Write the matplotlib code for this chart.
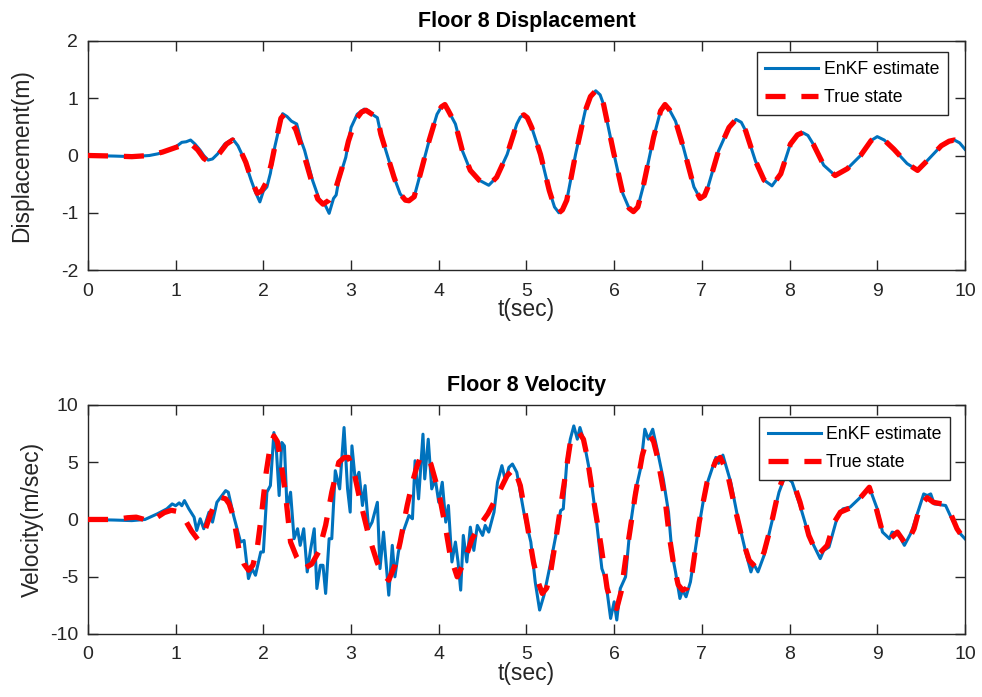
import numpy as np
import matplotlib
matplotlib.use("Agg")
import matplotlib.pyplot as plt

plt.rcParams['font.family'] = ['Liberation Sans', 'DejaVu Sans']
plt.rcParams['axes.unicode_minus'] = False

# ---- floor 8 displacement (m) ----
disp_est_t = [0.0, 0.3, 0.5, 0.7, 0.8, 0.92, 1.0, 1.07, 1.12, 1.17, 1.22, 1.28, 1.32, 1.37, 1.42,
              1.48, 1.56, 1.65, 1.71, 1.78, 1.86, 1.91, 1.96, 2.0, 2.04, 2.08, 2.13, 2.19, 2.22,
              2.27, 2.32, 2.38, 2.43, 2.47, 2.56, 2.64, 2.7, 2.75, 2.8, 2.83, 2.86, 2.94, 3.0,
              3.07, 3.15, 3.2, 3.24]
disp_est_v = [0.0, -0.01, -0.02, 0.0, 0.03, 0.09, 0.15, 0.23, 0.24, 0.27, 0.2, 0.09, 0.0, -0.08, -0.06,
              0.03, 0.2, 0.29, 0.17, -0.06, -0.43, -0.64, -0.81, -0.62, -0.55, -0.31, 0.15, 0.55, 0.73,
              0.68, 0.6, 0.55, 0.26, 0.09, -0.43, -0.78, -0.85, -1.01, -0.75, -0.69, -0.43, -0.03, 0.49,
              0.72, 0.81, 0.78, 0.72]

disp_true_t = [0.0, 0.3, 0.5, 0.7, 0.85, 1.0, 1.1, 1.17, 1.25, 1.32, 1.37, 1.43, 1.5, 1.58, 1.65,
               1.72, 1.8, 1.87, 1.93, 1.98, 2.04, 2.09, 2.15, 2.2, 2.24, 2.3, 2.37, 2.45, 2.55,
               2.62, 2.68, 2.75, 2.82, 2.9, 2.97, 3.05, 3.12, 3.17, 3.24]
disp_true_v = [0.0, -0.01, -0.02, 0.0, 0.06, 0.14, 0.19, 0.21, 0.1, -0.05, -0.1, -0.07, 0.04, 0.2, 0.27,
               0.15, -0.12, -0.45, -0.66, -0.62, -0.45, -0.15, 0.3, 0.65, 0.72, 0.63, 0.45, 0.08, -0.45,
               -0.76, -0.85, -0.78, -0.6, -0.2, 0.25, 0.62, 0.76, 0.79, 0.72]

# after ~3.3 s the estimate lies on the true state
disp_tail_t = [3.3, 3.34, 3.41, 3.49, 3.56, 3.62, 3.66, 3.72, 3.79, 3.89, 3.98, 4.03, 4.07, 4.11, 4.19,
               4.27, 4.36, 4.46, 4.57, 4.66, 4.78, 4.89, 4.93, 4.97, 5.01, 5.06, 5.16, 5.26, 5.32,
               5.37, 5.41, 5.46, 5.56, 5.67, 5.73, 5.79, 5.84, 5.88, 5.99, 6.1, 6.17, 6.22, 6.27,
               6.33, 6.45, 6.53, 6.58, 6.63, 6.7, 6.79, 6.91, 6.98, 7.03, 7.07, 7.19, 7.31, 7.39,
               7.45, 7.5, 7.61, 7.71, 7.8, 7.9, 8.01, 8.09, 8.15, 8.21, 8.27, 8.39, 8.52, 8.66,
               8.81, 8.93, 9.0, 9.08, 9.19, 9.34, 9.46, 9.57, 9.73, 9.82, 9.88, 9.94, 10.0]
disp_tail_v = [0.66, 0.37, 0.02, -0.38, -0.67, -0.78, -0.79, -0.72, -0.32, 0.26, 0.72, 0.85, 0.89, 0.78, 0.55,
               0.08, -0.26, -0.43, -0.52, -0.38, 0.02, 0.55, 0.67, 0.71, 0.66, 0.49, 0.02, -0.61, -0.9,
               -1.0, -0.95, -0.78, 0.02, 0.78, 1.03, 1.13, 1.06, 0.89, 0.08, -0.67, -0.92, -0.98, -0.9,
               -0.55, 0.32, 0.78, 0.89, 0.8, 0.6, 0.14, -0.55, -0.75, -0.7, -0.55, 0.08, 0.49, 0.63,
               0.58, 0.43, -0.09, -0.43, -0.53, -0.32, 0.2, 0.36, 0.4, 0.35, 0.2, -0.17, -0.35, -0.23,
               0.0, 0.26, 0.33, 0.27, 0.11, -0.14, -0.26, -0.09, 0.17, 0.25, 0.27, 0.22, 0.11]

# ---- floor 8 velocity (m/sec) ----
vel_est_t = [0.0, 0.3, 0.5, 0.65, 0.79, 0.9, 0.96, 1.0, 1.04, 1.07, 1.1, 1.15, 1.21, 1.24, 1.28,
             1.32, 1.38, 1.42, 1.47, 1.57, 1.6, 1.66, 1.74, 1.78, 1.83, 1.87, 1.91, 1.97, 2.0,
             2.04, 2.08, 2.12, 2.15, 2.18, 2.21, 2.24, 2.27, 2.31, 2.35, 2.39, 2.42, 2.46, 2.5,
             2.54, 2.58, 2.61, 2.65, 2.68, 2.71, 2.75, 2.78, 2.82, 2.87, 2.92, 2.96, 2.99, 3.01,
             3.05, 3.09, 3.13, 3.16, 3.2, 3.24, 3.3, 3.33, 3.37, 3.43, 3.47, 3.5, 3.54, 3.58,
             3.62, 3.66, 3.7, 3.73, 3.77, 3.82, 3.84, 3.88, 3.92, 3.96, 4.0, 4.04, 4.08, 4.11,
             4.15, 4.19, 4.22, 4.25, 4.28, 4.32, 4.36, 4.4, 4.44, 4.5, 4.53, 4.57, 4.63, 4.67,
             4.72, 4.76, 4.8, 4.84, 4.89, 4.97, 5.05, 5.1, 5.15, 5.2, 5.27, 5.35, 5.39, 5.42,
             5.46, 5.5, 5.54, 5.58, 5.61, 5.65, 5.73, 5.8, 5.86, 5.9, 5.96, 6.0, 6.03, 6.07,
             6.13, 6.18, 6.24, 6.3, 6.35, 6.39, 6.44, 6.49, 6.56, 6.62, 6.66, 6.7, 6.75, 6.78,
             6.82, 6.87, 6.95, 7.04, 7.16, 7.19, 7.24, 7.33, 7.42, 7.5, 7.56, 7.59, 7.64, 7.71,
             7.78, 7.88, 7.95, 8.03, 8.12, 8.22, 8.35, 8.39, 8.45, 8.55, 8.61, 8.69, 8.79, 8.91,
             9.0, 9.06, 9.14, 9.17, 9.24, 9.31, 9.39, 9.53, 9.57, 9.61, 9.65, 9.78, 9.85, 9.93,
             10.0]
vel_est_v = [0.0, -0.05, -0.1, 0.0, 0.49, 0.93, 1.36, 1.2, 1.45, 1.2, 1.65, 0.93, 0.2, -0.96, 0.06,
             -0.81, 0.64, -0.23, 1.5, 2.52, 2.38, 0.35, -1.97, -1.83, -5.16, -4.29, -4.87, -2.84, -2.84,
             2.38, 2.96, 7.59, 5.86, 2.09, 6.72, 6.43, 0.93, 2.38, -1.68, -0.81, -2.26, -0.81, -4.58,
             -2.55, -0.81, -6.03, -4.0, -4.0, -6.46, -1.68, -1.68, 4.26, 2.67, 8.03, 2.67, 0.64, 6.43,
             3.25, 4.12, 1.22, 2.96, -0.81, -0.23, 1.5, -4.29, -1.1, -6.61, -2.26, -5.01, -2.84, -1.39,
             -0.52, 0.35, 0.06, 5.13, 1.8, 7.45, 3.54, 7.01, 2.67, 3.54, 1.5, 3.25, -0.23, 1.22,
             -3.71, -1.97, -3.71, -6.17, -1.39, -3.71, -0.67, -2.7, -0.52, -1.39, -0.52, -1.1, 0.64, 3.25,
             4.7, 3.39, 4.55, 4.84, 4.12, 0.64, -1.97, -5.45, -7.91, -6.61, -4.0, -0.81, 0.78, 0.93,
             4.99, 7.01, 8.17, 7.01, 8.03, 7.01, 3.83, -0.23, -4.29, -5.16, -8.64, -7.19, -8.78, -6.03,
             -5.01, -0.81, 2.38, 4.41, 7.88, 7.01, 7.88, 6.14, 3.54, 0.64, -3.0, -4.58, -6.9, -6.17,
             -6.75, -5.45, -1.39, 2.67, 5.42, 4.9, 5.62, 3.25, -0.23, -2.84, -4.58, -3.86, -4.58, -3.13,
             -0.81, 2.38, 3.83, 3.25, 1.22, -1.39, -3.42, -2.7, -2.41, 0.35, 0.93, 1.07, 1.8, 2.81,
             0.93, -1.1, -1.68, -1.1, -1.25, -2.26, -1.1, 2.23, 2.09, 2.23, 1.36, 1.22, 0.06, -1.1,
             -1.68]

vel_true_t = [0.0, 0.3, 0.45, 0.55, 0.62, 0.7, 0.78, 0.87, 0.95, 1.02, 1.09, 1.18, 1.26, 1.34, 1.4,
              1.45, 1.51, 1.57, 1.61, 1.66, 1.72, 1.78, 1.83, 1.88, 1.93, 1.98, 2.03, 2.08, 2.12,
              2.16, 2.2, 2.25, 2.31, 2.38, 2.46, 2.55, 2.63, 2.71, 2.78, 2.86, 2.92, 2.97, 3.03,
              3.09, 3.2, 3.3, 3.37, 3.43, 3.5, 3.56, 3.64, 3.7, 3.75, 3.79, 3.85, 3.91, 4.0,
              4.08, 4.13, 4.21, 4.29, 4.38, 4.48, 4.56, 4.65, 4.72, 4.78, 4.86, 4.93, 5.01, 5.08,
              5.13, 5.18, 5.23, 5.27, 5.33, 5.41, 5.5, 5.55, 5.6, 5.65, 5.69, 5.77, 5.85, 5.92,
              5.98, 6.03, 6.08, 6.13, 6.18, 6.24, 6.32, 6.37, 6.41, 6.45, 6.49, 6.58, 6.63, 6.68,
              6.73, 6.78, 6.83, 6.89, 6.97, 7.06, 7.16, 7.21, 7.29, 7.38, 7.46, 7.54, 7.61, 7.66,
              7.71, 7.78, 7.88, 7.95, 8.03, 8.12, 8.22, 8.32, 8.43, 8.51, 8.58, 8.71, 8.83, 8.91,
              8.98, 9.06, 9.15, 9.23, 9.33, 9.42, 9.49, 9.57, 9.64, 9.74, 9.83, 9.91, 10.0]
vel_true_v = [0.0, 0.0, 0.15, 0.2, 0.05, -0.17, 0.15, 0.6, 0.8, 0.7, 0.2, -1.0, -1.83, -0.81, 0.5,
              1.5, 1.94, 1.8, 1.36, 0.2, -2.55, -3.9, -4.43, -4.0, -2.5, 0.5, 4.0, 6.5, 7.3,
              6.8, 5.0, 2.4, -1.97, -3.3, -4.3, -3.9, -2.84, -0.5, 2.38, 4.99, 5.4, 5.42, 4.3,
              2.09, -1.39, -3.8, -4.87, -5.3, -4.0, -1.97, 1.22, 3.25, 4.6, 5.42, 5.5, 4.84, 2.38,
              -0.81, -3.13, -5.01, -3.71, -1.68, -0.38, 0.5, 1.8, 2.9, 3.83, 4.46, 2.96, -0.52, -3.71,
              -5.4, -6.46, -6.0, -4.87, -1.97, 2.09, 6.72, 7.4, 7.59, 7.0, 5.57, 1.5, -2.26, -6.03,
              -7.5, -7.77, -6.3, -3.5, -1.0, 2.09, 5.57, 6.9, 7.3, 6.8, 5.57, 1.8, -1.5, -4.0,
              -5.7, -6.17, -6.0, -4.58, -0.23, 3.25, 5.13, 5.42, 4.12, 0.93, -1.68, -3.57, -4.14, -3.8,
              -2.84, -0.81, 2.67, 4.12, 3.54, 1.5, -1.39, -3.13, -2.26, -0.23, 0.64, 1.07, 2.09, 2.81,
              1.22, -1.1, -1.68, -1.1, -2.2, -0.81, 1.22, 1.9, 1.5, 1.36, 0.64, -0.81, -1.83]

blue = '#0072BD'
red = '#FF0000'
frame = '#262626'

fig = plt.figure(figsize=(9.82, 6.97), dpi=100)
ax1 = fig.add_axes([0.0896, 0.6126, 0.893, 0.3286])
ax2 = fig.add_axes([0.0896, 0.0904, 0.893, 0.3286])

panels = [
    (ax1, disp_est_t + disp_tail_t, disp_est_v + disp_tail_v,
     disp_true_t + disp_tail_t, disp_true_v + disp_tail_v,
     'Floor 8 Displacement', 'Displacement(m)', (-2, 2), [-2, -1, 0, 1, 2], -0.063, (0.9806, 0.952)),
    (ax2, vel_est_t, vel_est_v, vel_true_t, vel_true_v,
     'Floor 8 Velocity', 'Velocity(m/sec)', (-10, 10), [-10, -5, 0, 5, 10], -0.050, (0.983, 0.9476)),
]

for ax, et, ev, tt, tv, title, ylab, ylim, yticks, ylx, anchor in panels:
    ax.plot(et, ev, color=blue, lw=2.2, label='EnKF estimate', zorder=2)
    ax.plot(tt, tv, color=red, lw=3.8, linestyle=(0, (3.8, 3.0)), label='True state', zorder=3)
    ax.set_xlim(0, 10)
    ax.set_ylim(*ylim)
    ax.set_xticks(range(0, 11))
    ax.set_yticks(yticks)
    ax.tick_params(direction='in', top=True, right=True, length=7, width=1, colors=frame,
                   labelsize=14)
    ax.tick_params(axis='x', pad=9)
    ax.tick_params(axis='y', pad=7)
    for s in ax.spines.values():
        s.set_color(frame)
        s.set_linewidth(1)
    ax.set_title(title, fontsize=15.5, fontweight='bold', pad=10)
    ax.set_xlabel('t(sec)', fontsize=16.5, color=frame, labelpad=-1)
    ax.set_ylabel(ylab, fontsize=16.5, color=frame)
    ax.yaxis.set_label_coords(ylx, 0.5)
    leg = ax.legend(loc='upper right', bbox_to_anchor=anchor, borderaxespad=0, fontsize=12.7,
                    frameon=True, fancybox=False, handlelength=3.0, labelspacing=0.65,
                    handletextpad=0.3, borderpad=0.5)
    leg.get_frame().set_edgecolor(frame)
    leg.get_frame().set_linewidth(1)
    leg.get_frame().set_alpha(1)

fig.savefig('out.png', dpi=100, facecolor='white')
